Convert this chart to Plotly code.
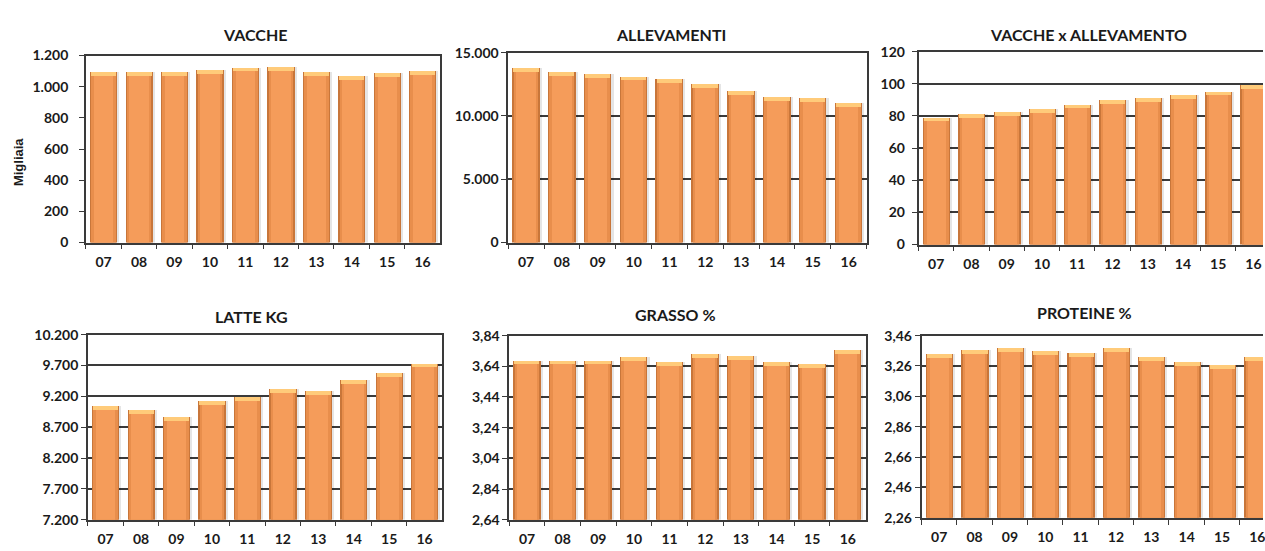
import plotly.graph_objects as go

# --- data -------------------------------------------------------------
years = ["07", "08", "09", "10", "11", "12", "13", "14", "15", "16"]

vacche = [1097, 1097, 1099, 1112, 1126, 1127, 1098, 1073, 1092, 1104]
allevamenti = [13800, 13520, 13310, 13140, 12930, 12550, 12010, 11500, 11450, 11080]
vacche_x_allev = [79.2, 81.3, 82.7, 84.3, 87.3, 90.0, 91.3, 93.4, 95.4, 99.2]
latte_kg = [9055, 8983, 8873, 9129, 9192, 9323, 9297, 9475, 9580, 9738]
grasso = [3.68, 3.68, 3.68, 3.70, 3.67, 3.72, 3.71, 3.67, 3.66, 3.75]
proteine = [3.34, 3.37, 3.38, 3.36, 3.35, 3.38, 3.32, 3.29, 3.27, 3.32]

titles = ["VACCHE", "ALLEVAMENTI", "VACCHE x ALLEVAMENTO",
          "LATTE KG", "GRASSO %", "PROTEINE %"]

ticks_vacche = [0, 200, 400, 600, 800, 1000, 1200]
ticks_allev = [0, 5000, 10000, 15000]
ticks_vxa = [0, 20, 40, 60, 80, 100, 120]
ticks_latte = [7200, 7700, 8200, 8700, 9200, 9700, 10200]
ticks_grasso = [2.64, 2.84, 3.04, 3.24, 3.44, 3.64, 3.84]
ticks_proteine = [2.26, 2.46, 2.66, 2.86, 3.06, 3.26, 3.46]

# --- layout of the six panels (pixel boxes on a 1265x551 page) ---------
W, H = 1265, 551
panels = [
    dict(vals=vacche, ticks=ticks_vacche, fmt=",d", box=(86, 441, 48, 241),
         xend=9.5, grid=False, mirror=True, title_xy=(255, 26), ystand=8),
    dict(vals=allevamenti, ticks=ticks_allev, fmt=",d", box=(509, 868, 45, 241),
         xend=9.5, grid=True, mirror=True, title_xy=(672, 26), ystand=0),
    dict(vals=vacche_x_allev, ticks=ticks_vxa, fmt=",d", box=(920, 1265, 44, 243),
         xend=9.27, grid=True, mirror=False, title_xy=(1090, 26), ystand=4),
    dict(vals=latte_kg, ticks=ticks_latte, fmt=",d", box=(88, 443, 336, 527),
         xend=9.5, grid=True, mirror=True, title_xy=(252, 317), ystand=0),
    dict(vals=grasso, ticks=ticks_grasso, fmt=".2f", box=(510, 867, 337, 527),
         xend=9.5, grid=True, mirror=True, title_xy=(677, 315), ystand=0),
    dict(vals=proteine, ticks=ticks_proteine, fmt=".2f", box=(923, 1265, 337, 525),
         xend=9.16, grid=True, mirror=False, title_xy=(1086, 313), ystand=0),
]

DARK = "#3a3a3a"
TXT = "#1a1a1a"
FONT = "Lato"
BAR_W = 0.77

fig = go.Figure()
annotations = []

for i, p in enumerate(panels, start=1):
    xa = "x" if i == 1 else f"x{i}"
    ya = "y" if i == 1 else f"y{i}"
    x0, x1, yt, yb = p["box"]
    lo, hi = p["ticks"][0], p["ticks"][-1]
    span = hi - lo
    plot_h = yb - yt
    cap = 4.0 / plot_h * span          # height of the light top band
    vals = p["vals"]
    base = [lo] * len(vals)
    height = [v - lo for v in vals]

    common = dict(x=years, xaxis=xa, yaxis=ya, showlegend=False, hoverinfo="skip")
    # soft shadow to the right of each column
    fig.add_trace(go.Bar(y=height, base=base, width=BAR_W, offset=-BAR_W / 2 + 0.06,
                         marker=dict(color="rgba(0,0,0,0.10)", line_width=0), **common))
    # darker rim, mid tone and bright body give the rounded column look
    fig.add_trace(go.Bar(y=height, base=base, width=BAR_W,
                         marker=dict(color="#C8763A", line_width=0), **common))
    fig.add_trace(go.Bar(y=height, base=base, width=BAR_W - 0.08,
                         marker=dict(color="#E88E4C", line_width=0), **common))
    fig.add_trace(go.Bar(y=height, base=base, width=BAR_W - 0.22,
                         marker=dict(color="#F59C5A", line_width=0), **common))
    # pale highlight on the top face
    fig.add_trace(go.Bar(y=[cap] * len(vals), base=[v - cap for v in vals],
                         width=BAR_W - 0.06,
                         marker=dict(color="#FFCB7A", line_width=0), **common))

    xkey = "xaxis" if i == 1 else f"xaxis{i}"
    ykey = "yaxis" if i == 1 else f"yaxis{i}"
    fig.update_layout({
        xkey: dict(
            domain=[x0 / W, x1 / W], anchor=ya, type="category",
            range=[-0.5, p["xend"]], showgrid=False, zeroline=False,
            showline=True, linecolor=DARK, linewidth=1.5, mirror=True,
            ticks="outside", tickson="boundaries", ticklen=5, tickcolor=DARK,
            tickwidth=1.2, ticklabelstandoff=6,
            tickfont=dict(family=FONT, size=14, color=TXT, weight="bold"),
            fixedrange=True,
        ),
        ykey: dict(
            domain=[1 - yb / H, 1 - yt / H], anchor=xa,
            range=[lo, hi], tickvals=p["ticks"], tickformat=p["fmt"],
            showgrid=p["grid"], gridcolor=DARK, gridwidth=2, zeroline=False,
            showline=True, linecolor=DARK, linewidth=1.5,
            mirror=p["mirror"], ticks="outside", ticklen=5, tickcolor=DARK,
            tickwidth=1.2, ticklabelstandoff=p["ystand"],
            tickfont=dict(family=FONT, size=14, color=TXT, weight="bold"),
            fixedrange=True,
        ),
    })

    tx, ty = p["title_xy"]
    annotations.append(dict(
        text=titles[i - 1], x=tx / W, y=1 - ty / H, xref="paper", yref="paper",
        xanchor="center", yanchor="middle", showarrow=False,
        font=dict(family=FONT, size=16, color=TXT, weight="bold"),
    ))

annotations.append(dict(
    text="Migliaia", x=18 / W, y=1 - 158 / H, xref="paper", yref="paper",
    xanchor="center", yanchor="middle", showarrow=False, textangle=-90,
    font=dict(family="Liberation Sans", size=13, color=TXT, weight="bold"),
))

fig.update_layout(
    width=W, height=H, margin=dict(l=0, r=0, t=0, b=0),
    paper_bgcolor="white", plot_bgcolor="white",
    barmode="overlay", bargap=0, separators=",.",
    annotations=annotations,
)

fig.write_html("out.html")
